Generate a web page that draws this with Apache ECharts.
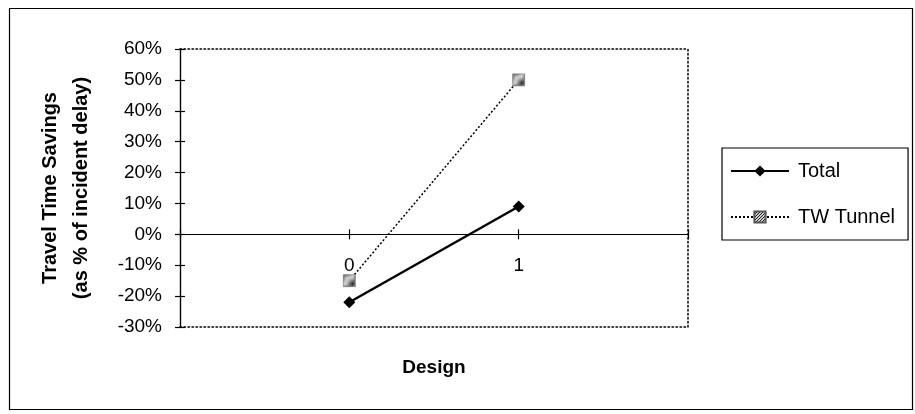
<!DOCTYPE html>
<html>
<head>
<meta charset="utf-8">
<script src="https://cdn.jsdelivr.net/npm/echarts@6/dist/echarts.min.js"></script>
<style>
  html, body { margin: 0; padding: 0; background: #fff; }
  #main { width: 915px; height: 414px; }
</style>
</head>
<body>
<div id="main"></div>
<script>
// data
var designs = ['', '0', '1', ''];
var totalData = [null, -22, 9, null];
var tunnelData = [null, -15, 50, null];
var yMin = -30, yMax = 60, yStep = 10;

var chart = echarts.init(document.getElementById('main'));

// gray checker pattern for the TW Tunnel marker
var pat = document.createElement('canvas');
pat.width = 3; pat.height = 3;
var pctx = pat.getContext('2d');
pctx.fillStyle = '#cfcfcf';
pctx.fillRect(0, 0, 3, 3);
pctx.fillStyle = '#222';
pctx.fillRect(0, 0, 1, 1);
pctx.fillRect(2, 1, 1, 1);
pctx.fillRect(1, 2, 1, 1);

var font = 'Liberation Sans';
var dotted = { color: '#000', width: 1.5, type: [1.5, 2.5] };
var solid = { color: '#000', width: 1.2 };

var option = {
	animation: false,
	backgroundColor: '#fff',
	textStyle: { fontFamily: font, color: '#000' },
	graphic: [{
		type: 'rect',
		shape: { x: 9.5, y: 8.5, width: 903, height: 401 },
		style: { fill: 'none', stroke: '#000', lineWidth: 1.2 },
		silent: true
	}],
	grid: {
		left: 180,
		top: 49,
		width: 508,
		height: 278
	},
	legend: {
		orient: 'vertical',
		left: 722,
		top: 148,
		padding: [13, 13, 13, 8],
		itemGap: 26,
		itemWidth: 58,
		itemHeight: 14,
		borderColor: '#000',
		borderWidth: 1.2,
		textStyle: { fontSize: 20, color: '#000', fontFamily: font, padding: [0, 0, 0, 4] },
		data: ['Total', 'TW Tunnel']
	},
	xAxis: [{
		// zero line, ticks below
		type: 'category',
		data: designs,
		boundaryGap: false,
		position: 'bottom',
		axisLine: { onZero: true, onZeroAxisIndex: 0, lineStyle: solid },
		axisTick: { show: true, interval: 0, length: 5, lineStyle: solid },
		axisLabel: { show: false },
		splitLine: { show: false }
	}, {
		// zero line, ticks above
		type: 'category',
		data: designs,
		boundaryGap: false,
		position: 'bottom',
		axisLine: { onZero: true, onZeroAxisIndex: 0, lineStyle: solid },
		axisTick: { show: true, inside: true, interval: 0, length: 5, lineStyle: solid },
		axisLabel: { show: false },
		splitLine: { show: false }
	}, {
		// dotted bottom frame, carries labels + name
		type: 'category',
		data: designs,
		boundaryGap: false,
		position: 'bottom',
		name: 'Design',
		nameLocation: 'middle',
		nameGap: 31,
		nameTextStyle: { fontSize: 19, fontWeight: 'bold', color: '#000', fontFamily: font },
		axisLine: { onZero: false, lineStyle: dotted },
		axisTick: { show: false },
		axisLabel: { interval: 0, margin: -71, fontSize: 19, color: '#000', fontFamily: font },
		splitLine: { show: false }
	}, {
		type: 'category',
		data: designs,
		boundaryGap: false,
		position: 'top',
		axisLine: { onZero: false, lineStyle: dotted },
		axisTick: { show: false },
		axisLabel: { show: false },
		splitLine: { show: false }
	}],
	yAxis: [{
		type: 'value',
		min: yMin,
		max: yMax,
		interval: yStep,
		position: 'left',
		name: 'Travel Time Savings\n(as % of incident delay)',
		nameLocation: 'middle',
		nameGap: 83,
		nameTextStyle: { fontSize: 20, fontWeight: 'bold', color: '#000', fontFamily: font, lineHeight: 31 },
		axisLine: { show: true, onZero: false, lineStyle: solid },
		axisTick: { show: true, length: 5, lineStyle: solid },
		axisLabel: { formatter: '{value}%', margin: 18, fontSize: 19, color: '#000', fontFamily: font },
		splitLine: { show: false }
	}, {
		type: 'value',
		min: yMin,
		max: yMax,
		interval: yStep,
		position: 'left',
		axisLine: { show: true, onZero: false, lineStyle: solid },
		axisTick: { show: true, inside: true, length: 5, lineStyle: solid },
		axisLabel: { show: false },
		splitLine: { show: false }
	}, {
		type: 'value',
		min: yMin,
		max: yMax,
		interval: yStep,
		position: 'right',
		axisLine: { show: true, onZero: false, lineStyle: dotted },
		axisTick: { show: false },
		axisLabel: { show: false },
		splitLine: { show: false }
	}],
	series: [{
		name: 'Total',
		type: 'line',
		xAxisIndex: 0,
		yAxisIndex: 0,
		data: totalData,
		symbol: 'diamond',
		symbolSize: 12,
		itemStyle: { color: '#000' },
		lineStyle: { color: '#000', width: 2.4 },
		z: 5
	}, {
		name: 'TW Tunnel',
		type: 'line',
		xAxisIndex: 0,
		yAxisIndex: 0,
		data: tunnelData,
		symbol: 'rect',
		symbolSize: 12,
		itemStyle: { color: { image: pat, repeat: 'repeat' }, borderColor: '#555', borderWidth: 0.5 },
		lineStyle: { color: '#000', width: 1.5, type: [2, 2] },
		z: 4
	}]
};

chart.setOption(option);
</script>
</body>
</html>
